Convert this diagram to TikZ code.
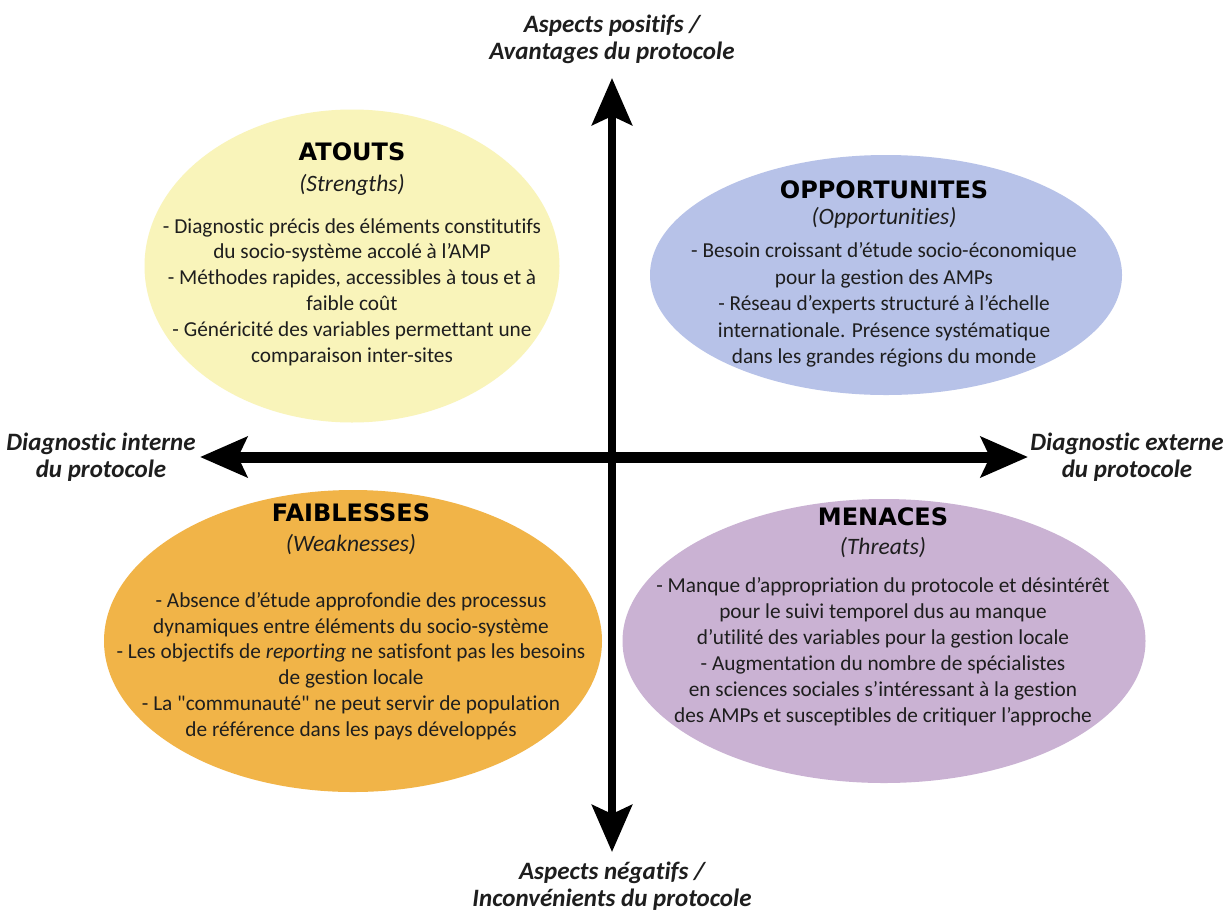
\documentclass[tikz,border=0pt]{standalone}
\usepackage{fontspec}
\setmainfont{Carlito}[Ligatures={TeX,NoCommon}]
\newfontfamily\headfont{DejaVu Sans}
\usetikzlibrary{arrows.meta,shapes.geometric}
\definecolor{yel}{RGB}{249,244,186}
\definecolor{blu}{RGB}{183,194,232}
\definecolor{ora}{RGB}{241,180,72}
\definecolor{pur}{RGB}{202,178,211}
\definecolor{txt}{RGB}{30,30,30}
\newcommand{\sq}{{\addfontfeature{Ligatures=TeXOff}"}}
\tikzset{
  blob/.style={ellipse, draw=none, inner sep=0pt},
  head/.style={font=\headfont\bfseries\fontsize{24}{28}\selectfont, text=black, inner sep=0pt},
  sub/.style={font=\itshape\fontsize{23.5}{28}\selectfont, text=txt, inner sep=0pt},
  body/.style={font=\fontsize{21.3}{25.8}\selectfont, align=center, text=txt, inner sep=0pt},
  axlabel/.style={font=\bfseries\itshape\fontsize{25}{27}\selectfont, align=center, text=txt, inner sep=0pt},
  vaxis/.style={line width=8pt, {Stealth[length=47pt,width=40pt,inset=9pt]}-{Stealth[length=47pt,width=40pt,inset=9pt]}},
  haxis/.style={line width=11pt, {Stealth[length=47pt,width=40pt,inset=9pt]}-{Stealth[length=47pt,width=40pt,inset=9pt]}}
}
\begin{document}
\begin{tikzpicture}[x=1pt,y=-1pt]
\fill[white] (0,0) rectangle (1228,911);
\useasboundingbox (0,0) rectangle (1228,911);

% ellipses
\node[blob, fill=yel, minimum width=415pt, minimum height=313pt] (sw) at (352,266) {};
\node[blob, fill=blu, minimum width=472pt, minimum height=240pt] (op) at (886,275) {};
\node[blob, fill=ora, minimum width=498pt, minimum height=302pt] (wk) at (353,641) {};
\node[blob, fill=pur, minimum width=523pt, minimum height=284pt] (th) at (884,641) {};

% axes
\coordinate (top) at (612,78);
\coordinate (bot) at (612,852);
\coordinate (lft) at (200,457);
\coordinate (rgt) at (1028,457);
\draw[haxis] (lft) -- (rgt);
\draw[vaxis] (top) -- (bot);

% axis labels
\node[axlabel] (ltop) at (612,39) {Aspects positifs /\\Avantages du protocole};
\node[axlabel] (lbot) at (612,886) {Aspects négatifs /\\Inconvénients du protocole};
\node[axlabel] (llft) at (101,457) {Diagnostic interne\\du protocole};
\node[axlabel] (lrgt) at (1127,457) {Diagnostic externe\\du protocole};

% ATOUTS
\node[head] (swh) at (352,152) {ATOUTS};
\node[sub] (sws) at (352,185) {(Strengths)};
\node[body] (swb) at (352,292) {- Diagnostic précis des éléments constitutifs\\
du socio-système accolé à l'AMP\\
- Méthodes rapides, accessibles à tous et à\\
faible coût\\
- Généricité des variables permettant une\\
comparaison inter-sites};

% OPPORTUNITES
\node[head] (oph) at (884,190) {OPPORTUNITES};
\node[sub] (ops) at (884,218) {(Opportunities)};
\node[body, font=\fontsize{21.3}{26.5}\selectfont] (opb) at (884,305) {- Besoin croissant d'étude socio-économique\\
pour la gestion des AMPs\\
- Réseau d'experts structuré à l'échelle\\
internationale. Présence systématique\\
dans les grandes régions du monde};

% FAIBLESSES
\node[head] (wkh) at (351,513) {FAIBLESSES};
\node[sub] (wks) at (351,545) {(Weaknesses)};
\node[body] (wkb) at (351,666) {- Absence d'étude approfondie des processus\\
dynamiques entre éléments du socio-système\\
- Les objectifs de \textit{reporting} ne satisfont pas les besoins\\
de gestion locale\\
- La \sq communauté\sq{} ne peut servir de population\\
de référence dans les pays développés};

% MENACES
\node[head] (thh) at (883,517) {MENACES};
\node[sub] (ths) at (883,548) {(Threats)};
\node[body, font=\fontsize{21.3}{26}\selectfont] (thb) at (883,652) {- Manque d'appropriation du protocole et désintérêt\\
pour le suivi temporel dus au manque\\
d'utilité des variables pour la gestion locale\\
- Augmentation du nombre de spécialistes\\
en sciences sociales s'intéressant à la gestion\\
des AMPs et susceptibles de critiquer l'approche};
\end{tikzpicture}
\end{document}
